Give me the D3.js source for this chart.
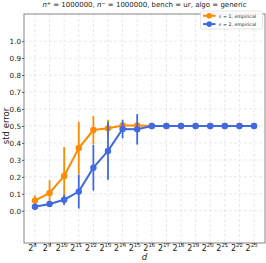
<!DOCTYPE html>
<html>
<head>
<meta charset="utf-8">
<script src="https://cdn.jsdelivr.net/npm/d3@7"></script>
<style>
  body { margin: 0; background: #fff; }
  text { font-family: "DejaVu Sans", sans-serif; fill: #222; }
</style>
</head>
<body>
<div class="container"></div>
<script>
// data
var exps = [8, 9, 10, 11, 12, 13, 14, 15, 16, 17, 18, 19, 20, 21, 22, 23];
var eps1Mean = [0.06, 0.105, 0.205, 0.37, 0.476, 0.486, 0.503, 0.503, 0.5, 0.5, 0.5, 0.5, 0.5, 0.5, 0.5, 0.5];
var eps1Err  = [0.03, 0.075, 0.17, 0.155, 0.083, 0.05, 0.012, 0.008, 0, 0, 0, 0, 0, 0, 0, 0];
var eps2Mean = [0.024, 0.04, 0.065, 0.113, 0.254, 0.353, 0.482, 0.48, 0.5, 0.5, 0.5, 0.5, 0.5, 0.5, 0.5, 0.5];
var eps2Err  = [0.005, 0.008, 0.03, 0.1, 0.135, 0.17, 0.055, 0.09, 0, 0, 0, 0, 0, 0, 0, 0];
var yTicks = [0, 0.1, 0.2, 0.3, 0.4, 0.5, 0.6, 0.7, 0.8, 0.9, 1.0];
var seriesNames = ['ε = 1, empirical', 'ε = 2, empirical'];
var seriesColors = ['#ff8c00', '#4169e1'];

var W = 266, H = 263;
var padL = 24, padR = 265, padT = 14, padB = 243;

var svg = d3.select('.container')
    .append('svg')
    .attr('width', W)
    .attr('height', H);

var x = d3.scaleLinear().domain([7.25, 23.75]).range([padL, padR]);
var y = d3.scaleLinear().domain([-0.19, 1.16]).range([padB, padT]);

// grid
svg.selectAll('.vgrid')
    .data(exps)
    .enter()
    .append('line')
    .attr('x1', d => x(d))
    .attr('x2', d => x(d))
    .attr('y1', padT)
    .attr('y2', padB)
    .style('stroke', '#e3e3e3')
    .style('stroke-width', 0.8)
    .style('stroke-dasharray', '3,2');

svg.selectAll('.hgrid')
    .data(yTicks)
    .enter()
    .append('line')
    .attr('x1', padL)
    .attr('x2', padR)
    .attr('y1', d => y(d))
    .attr('y2', d => y(d))
    .style('stroke', '#e3e3e3')
    .style('stroke-width', 0.8)
    .style('stroke-dasharray', '3,2');

// axes
var yAxis = d3.axisLeft(y).tickValues(yTicks).tickSize(2).tickFormat(d3.format('.1f'));
var gy = svg.append('g').attr('transform', 'translate(' + padL + ',0)').call(yAxis);
gy.select('.domain').remove();
gy.selectAll('text').style('font-size', '7.2px').attr('x', -3).style('fill', '#222');
gy.selectAll('line').style('stroke', '#555');

var xAxis = d3.axisBottom(x).tickValues(exps).tickSize(2).tickFormat('');
var gx = svg.append('g').attr('transform', 'translate(0,' + padB + ')').call(xAxis);
gx.select('.domain').remove();
gx.selectAll('line').style('stroke', '#555');

svg.selectAll('.xlab')
    .data(exps)
    .enter()
    .append('text')
    .attr('x', d => x(d) - 2.5)
    .attr('y', 250.5)
    .attr('text-anchor', 'middle')
    .style('font-size', '8px')
    .each(function(d) {
        var t = d3.select(this);
        t.append('tspan').text('2');
        t.append('tspan').attr('dy', -3.5).style('font-size', '5.4px').text(d);
    });

// frame
svg.append('rect')
    .attr('x', padL)
    .attr('y', padT)
    .attr('width', padR - padL)
    .attr('height', padB - padT)
    .style('fill', 'none')
    .style('stroke', '#666')
    .style('stroke-width', 0.8);

// series
var means = [eps1Mean, eps2Mean];
var errs = [eps1Err, eps2Err];
var line = d3.line().x(d => x(d[0])).y(d => y(d[1]));

means.forEach(function(m, s) {
    var pts = exps.map((e, i) => [e, m[i], errs[s][i]]);
    var g = svg.append('g');
    g.selectAll('line')
        .data(pts.filter(p => p[2] > 0))
        .enter()
        .append('line')
        .attr('x1', p => x(p[0]))
        .attr('x2', p => x(p[0]))
        .attr('y1', p => y(p[1] - p[2]))
        .attr('y2', p => y(p[1] + p[2]))
        .style('stroke', seriesColors[s])
        .style('stroke-width', 1.8);
    g.append('path')
        .attr('d', line(pts))
        .style('fill', 'none')
        .style('stroke', seriesColors[s])
        .style('stroke-width', 2);
    g.selectAll('circle')
        .data(pts)
        .enter()
        .append('circle')
        .attr('cx', p => x(p[0]))
        .attr('cy', p => y(p[1]))
        .attr('r', 3.2)
        .style('fill', seriesColors[s]);
});

// title and labels
var title = svg.append('text')
    .attr('x', (padL + padR) / 2)
    .attr('y', 7)
    .attr('text-anchor', 'middle')
    .style('font-size', '7px');
title.append('tspan').style('font-style', 'italic').text('n');
title.append('tspan').attr('dy', -2.5).style('font-size', '5px').text('+');
title.append('tspan').attr('dy', 2.5).text(' = 1000000, ');
title.append('tspan').style('font-style', 'italic').text('n');
title.append('tspan').attr('dy', -2.5).style('font-size', '5px').text('−');
title.append('tspan').attr('dy', 2.5).text(' = 1000000, bench = ur, algo = generic');

svg.append('text')
    .attr('transform', 'translate(9,' + y(0.5) + ') rotate(-90)')
    .attr('text-anchor', 'middle')
    .style('font-size', '8.5px')
    .text('std error');

svg.append('text')
    .attr('x', (padL + padR) / 2)
    .attr('y', 260)
    .attr('text-anchor', 'middle')
    .style('font-size', '8.5px')
    .style('font-style', 'italic')
    .text('d');

// legend
var lg = svg.append('g');
lg.append('rect')
    .attr('x', 200.5)
    .attr('y', 11)
    .attr('width', 62)
    .attr('height', 18)
    .attr('rx', 1.5)
    .style('fill', 'rgba(255,255,255,0.85)')
    .style('stroke', '#d8d8d8')
    .style('stroke-width', 0.7);

seriesNames.forEach(function(name, i) {
    var cy = 15.8 + i * 8.3;
    lg.append('line')
        .attr('x1', 203)
        .attr('x2', 215.5)
        .attr('y1', cy)
        .attr('y2', cy)
        .style('stroke', seriesColors[i])
        .style('stroke-width', 2);
    lg.append('circle')
        .attr('cx', 209.2)
        .attr('cy', cy)
        .attr('r', 2.8)
        .style('fill', seriesColors[i]);
    lg.append('text')
        .attr('x', 219)
        .attr('y', cy + 1.7)
        .style('font-size', '4.7px')
        .text(name);
});
</script>
</body>
</html>
